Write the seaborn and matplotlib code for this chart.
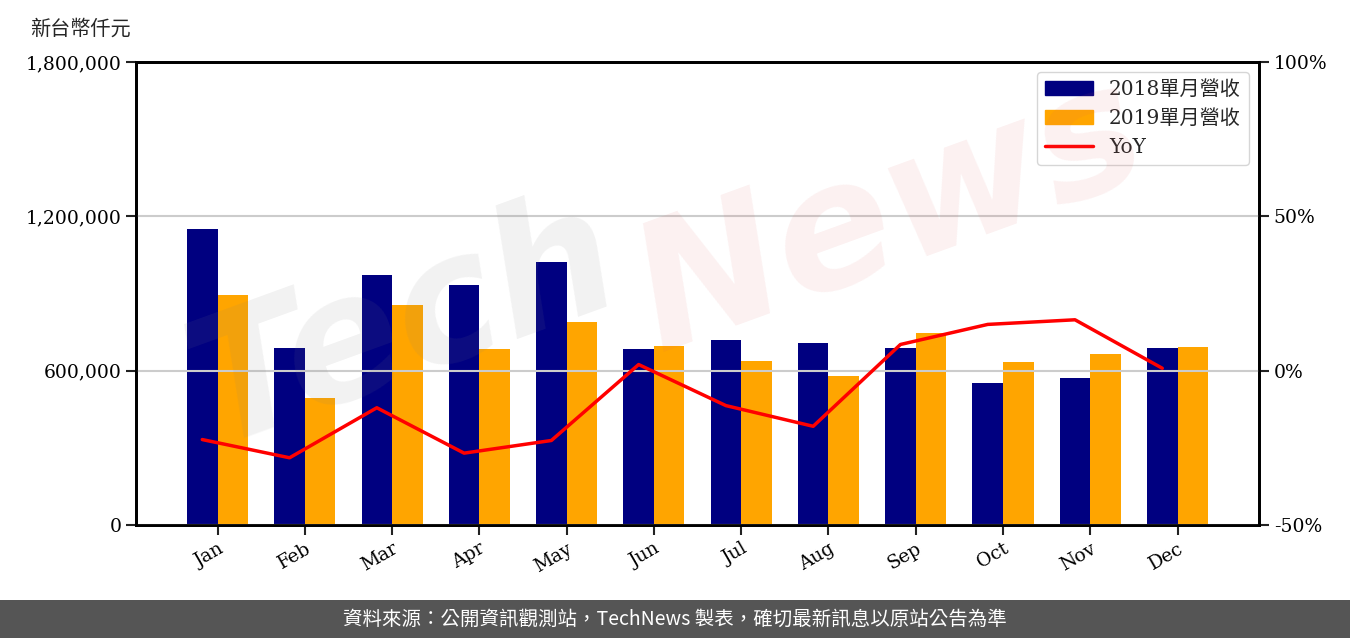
import numpy as np
import pandas as pd
import matplotlib
matplotlib.use("Agg")
import matplotlib.pyplot as plt
import seaborn as sns
from matplotlib.patches import Patch, Rectangle
from matplotlib.lines import Line2D

months = ["Jan", "Feb", "Mar", "Apr", "May", "Jun", "Jul", "Aug", "Sep", "Oct", "Nov", "Dec"]
rev_2018 = [1150000, 688000, 972000, 933000, 1022000, 684000, 719000, 708000, 688000, 552000, 571000, 688000]
rev_2019 = [894000, 494000, 855000, 684000, 789000, 696000, 638000, 579000, 746000, 634000, 665000, 692000]
yoy = [-22.3, -28.2, -12.0, -26.7, -22.6, 2.0, -11.3, -18.0, 8.5, 15.0, 16.5, 0.8]

sns.set_style("ticks")
plt.rcParams["font.family"] = ["DejaVu Serif", "Noto Sans CJK TC"]
plt.rcParams["axes.unicode_minus"] = False

df = pd.DataFrame({
    "month": months * 2,
    "value": rev_2018 + rev_2019,
    "year": ["2018單月營收"] * 12 + ["2019單月營收"] * 12,
})

fig = plt.figure(figsize=(13.5, 6.38), dpi=100)
ax = fig.add_axes([0.1007, 0.177, 0.832, 0.7258])

sns.barplot(data=df, x="month", y="value", hue="year", palette=["#000080", "#FFA500"],
            width=0.7, saturation=1, ax=ax, legend=False, errorbar=None, linewidth=0)
ax.set_xlim(-0.935, 11.935)
ax.set_ylim(0, 1800000)
ax.set_yticks([0, 600000, 1200000, 1800000])
ax.set_yticklabels([f"{v:,}" for v in [0, 600000, 1200000, 1800000]], fontsize=13.5)
ax.set_xlabel("")
ax.set_ylabel("")
ax.set_xticks(range(12))
ax.set_xticklabels(months, rotation=30, ha="right", rotation_mode="anchor", fontsize=13.5)

ax2 = ax.twinx()
sns.lineplot(x=np.arange(12) - 0.175, y=yoy, color="red", linewidth=2.5, ax=ax2)
ax2.set_ylim(-50, 100)
ax2.set_yticks([-50, 0, 50, 100])
ax2.set_yticklabels(["-50%", "0%", "50%", "100%"], fontsize=13.5)
ax2.set_xlim(-0.935, 11.935)
ax2.grid(axis="y", color="#cccccc", linewidth=1.5)

for a in (ax, ax2):
    for s in a.spines.values():
        s.set_visible(True)
        s.set_linewidth(2)
        s.set_color("black")
    a.tick_params(length=7, width=1.5, color="#222222", labelcolor="black")

handles = [Patch(color="#000080"), Patch(color="#FFA500"), Line2D([0], [0], color="red", lw=2.5)]
ax2.legend(handles, ["2018單月營收", "2019單月營收", "YoY"], loc="upper right",
           fontsize=14.5, frameon=True, framealpha=0.8, edgecolor="#cccccc",
           handlelength=2.4, borderaxespad=0.5)

fig.text(0.022, 0.955, "新台幣仟元", fontsize=14.5, ha="left", va="center")

# watermark
fig.text(0.30, 0.49, "Tech", fontsize=125, color="#808080", alpha=0.10, rotation=20,
         ha="center", va="center", fontstyle="italic", family="DejaVu Sans", fontweight="bold")
fig.text(0.66, 0.66, "News", fontsize=125, color="#e06060", alpha=0.09, rotation=20,
         ha="center", va="center", fontstyle="italic", family="DejaVu Sans", fontweight="bold")

fig.patches.append(Rectangle((0, 0), 1, 38 / 638, transform=fig.transFigure,
                             facecolor="#555555", edgecolor="none"))
fig.text(0.5, 19 / 638, "資料來源：公開資訊觀測站，TechNews 製表，確切最新訊息以原站公告為準",
         color="white", fontsize=14, ha="center", va="center",
         family=["Noto Sans CJK TC", "DejaVu Sans"])

fig.savefig("out.png", dpi=100)
